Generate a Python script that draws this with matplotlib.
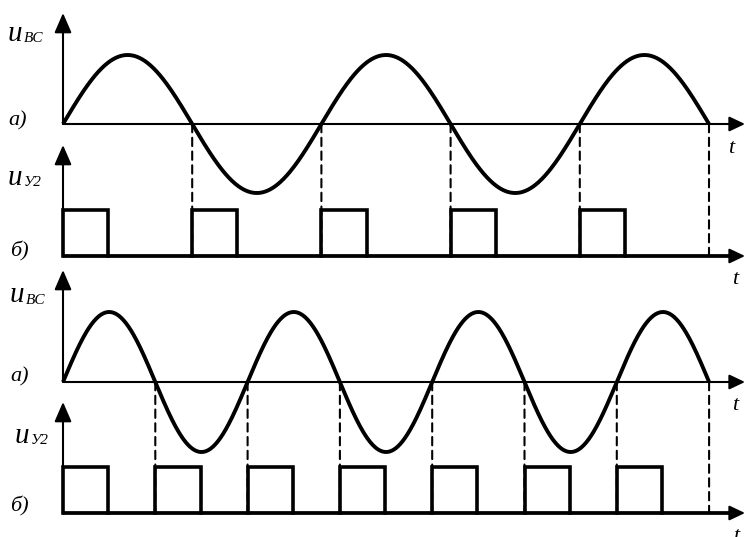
import numpy as np
import matplotlib
matplotlib.use("Agg")
import matplotlib.pyplot as plt
from matplotlib.patches import ConnectionPatch

# ---------------- data ----------------
top_periods = 2.5                                   # sine length (periods), diagram 1
top_crossings = [0.5, 1.0, 1.5, 2.0, 2.5]           # zero crossings marked with dashes
top_pulse_starts = [0.0, 0.5, 1.0, 1.5, 2.0]        # pulse start times (periods)
top_pulse_width = 0.175                             # pulse width (periods)

bottom_periods = 3.5
bottom_crossings = [0.5, 1.0, 1.5, 2.0, 2.5, 3.0, 3.5]
bottom_pulse_starts = [0.0, 0.5, 1.0, 1.5, 2.0, 2.5, 3.0]
bottom_pulse_width = 0.245

sine_label = ("u", "BC")
pulse_label = ("u", "У2")
sine_tag = "а)"
pulse_tag = "б)"
time_label = "t"

# ---------------- layout ----------------
W, H = 745, 537
fig = plt.figure(figsize=(W / 100, H / 100), dpi=100)
fig.patch.set_facecolor("white")

FONT = "Liberation Serif"


def make_ax(top_px, bot_px, x0, xs, y0, ys):
    ax = fig.add_axes([0, 1 - bot_px / H, 1, (bot_px - top_px) / H])
    ax.set_xlim(-x0 / xs, (W - x0) / xs)
    ax.set_ylim((y0 - bot_px) / ys, (y0 - top_px) / ys)
    ax.axis("off")
    ax.patch.set_alpha(0)
    return ax


X_ARROW = dict(arrowstyle="-|>,head_length=0.95,head_width=0.45",
               mutation_scale=10, lw=1.5, color="k", shrinkA=0, shrinkB=0)
Y_ARROW = dict(arrowstyle="-|>,head_length=1.2,head_width=0.52",
               mutation_scale=10, lw=1.5, color="k", shrinkA=0, shrinkB=0)


def draw_sine(ax, periods, tip_y):
    t = np.linspace(0, periods, 800)
    ax.plot(t, np.sin(2 * np.pi * t), color="k", lw=2.8,
            solid_capstyle="butt", clip_on=False, zorder=3)
    xmax = ax.get_xlim()[1]
    ax.annotate("", xy=(xmax, 0), xytext=(0, 0), arrowprops=X_ARROW,
                annotation_clip=False)
    ax.annotate("", xy=(0, tip_y), xytext=(0, 0), arrowprops=Y_ARROW,
                annotation_clip=False)


def draw_pulses(ax, starts, width, tip_y):
    for s in starts:
        ax.plot([s, s, s + width, s + width], [0, 1, 1, 0], color="k", lw=2.6,
                solid_joinstyle="miter", clip_on=False, zorder=3)
    xmax = ax.get_xlim()[1]
    ax.plot([0, xmax - 0.06], [0, 0], color="k", lw=2.7, clip_on=False,
            solid_capstyle="butt", zorder=3)
    ax.annotate("", xy=(xmax, 0), xytext=(0, 0), arrowprops=X_ARROW,
                annotation_clip=False)
    ax.annotate("", xy=(0, tip_y), xytext=(0, 0), arrowprops=Y_ARROW,
                annotation_clip=False)


def dashes(ax_a, ax_b, crossings):
    for c in crossings:
        con = ConnectionPatch(xyA=(c, 0), coordsA=ax_a.transData,
                              xyB=(c, 0), coordsB=ax_b.transData,
                              color="k", lw=1.5, linestyle=(0, (4.0, 2.6)),
                              zorder=1)
        fig.add_artist(con)


def ftext(x, y, s, size):
    fig.text(x / W, 1 - y / H, s, fontsize=size, family=FONT, style="italic",
             ha="left", va="baseline")


def u_label(x, y, main, sub):
    ftext(x, y, main, 21)
    ftext(x + 15.5, y + 1.5, sub, 11)


# top diagram
ax1 = make_ax(0, 135, 63, 258.4, 124, 69)
ax2 = make_ax(135, 265, 63, 258.4, 256, 46)
draw_sine(ax1, top_periods, (124 - 13) / 69)
draw_pulses(ax2, top_pulse_starts, top_pulse_width, (256 - 145) / 46)
dashes(ax1, ax2, top_crossings)

# bottom diagram
ax3 = make_ax(265, 395, 63, 184.6, 382, 70)
ax4 = make_ax(395, 537, 63, 184.6, 513, 46)
draw_sine(ax3, bottom_periods, (382 - 270) / 70)
draw_pulses(ax4, bottom_pulse_starts, bottom_pulse_width, (513 - 402) / 46)
dashes(ax3, ax4, bottom_crossings)

# labels
u_label(8, 41, *sine_label)
u_label(8, 185, *pulse_label)
u_label(10, 302, *sine_label)
u_label(15, 443, *pulse_label)
ftext(8, 125, sine_tag, 16)
ftext(10, 256, pulse_tag, 16)
ftext(10, 381, sine_tag, 16)
ftext(10, 511, pulse_tag, 16)
ftext(728, 153, time_label, 16)
ftext(732, 284, time_label, 16)
ftext(732, 410, time_label, 16)
ftext(733, 541, time_label, 16)

fig.savefig("out.png", dpi=100, facecolor="white")
